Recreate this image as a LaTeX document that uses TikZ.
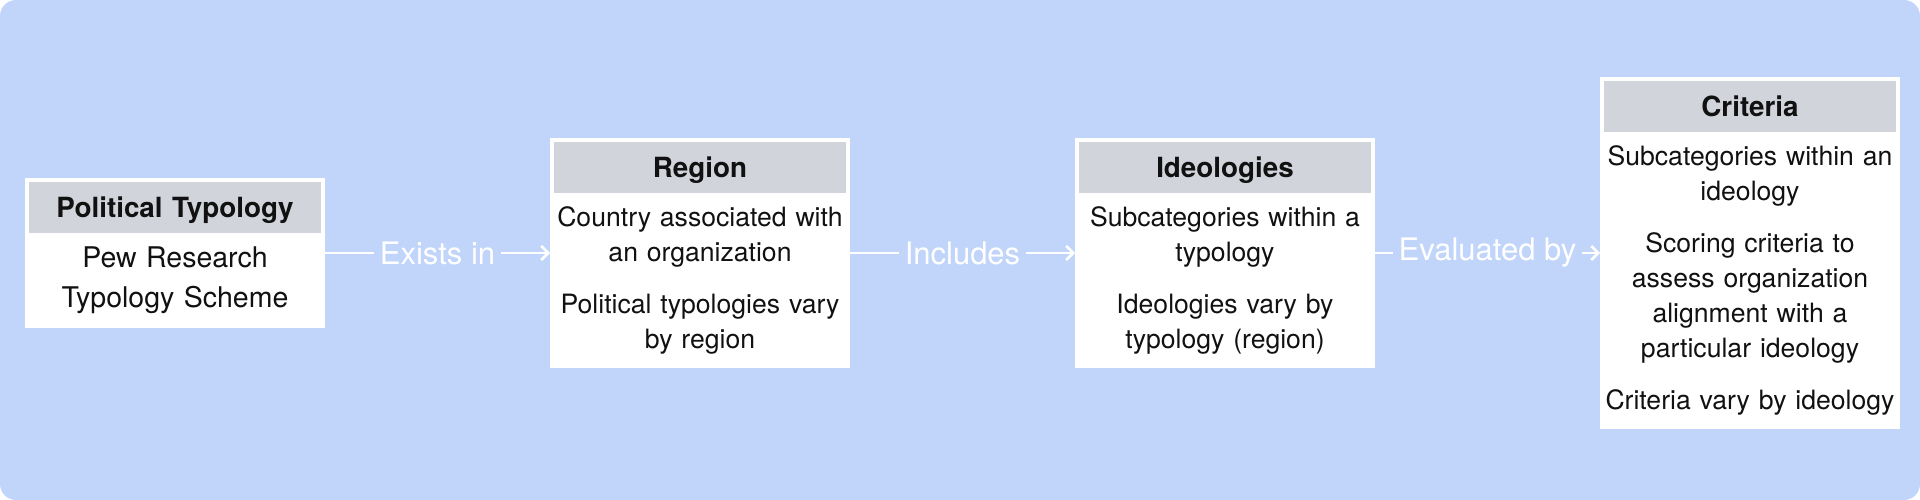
\documentclass[tikz,border=0pt]{standalone}
\usepackage{fontspec}
\setmainfont{TeX Gyre Heros}
\usetikzlibrary{arrows.meta,positioning,shapes.multipart}
\definecolor{bgblue}{HTML}{C1D5FA}
\definecolor{hdrgrey}{HTML}{D1D5DB}
\definecolor{inktext}{HTML}{111111}
\newcommand{\hdstrut}{\rule[-6pt]{0pt}{31.4pt}}
\newcommand{\cardhead}[1]{\fontsize{27.8}{30}\selectfont\bfseries\hdstrut #1}
\tikzset{
  card/.style={rectangle split, rectangle split parts=2, draw=white, line width=4pt,
    rectangle split part fill={hdrgrey,white}, text width=294pt, inner xsep=1pt, inner ysep=9.8pt,
    align=center, text=inktext, font=\fontsize{26.6}{35}\selectfont},
  line/.style={-{Straight Barb[length=7pt,width=14pt]}, line width=2.5pt, white},
  rel/.style={fill=bgblue, text=white, inner xsep=6pt, inner ysep=2pt, font=\fontsize{31}{34}\selectfont}
}

\begin{document}
\begin{tikzpicture}[node distance=225pt]
  \fill[bgblue, rounded corners=16pt] (0,0) rectangle (1920pt,-500pt);

  \node[card, font=\fontsize{28.5}{40}\selectfont] (typology) at (175pt,-253pt)
    {\cardhead{Political Typology}
     \nodepart{two} Pew Research\\Typology Scheme};
  \node[card, right=of typology] (region)
    {\cardhead{Region}
     \nodepart{two} Country associated with\\an organization\\[17pt]Political typologies vary\\by region};
  \node[card, right=of region] (ideology)
    {\cardhead{Ideologies}
     \nodepart{two} Subcategories within a\\typology\\[17pt]Ideologies vary by\\typology (region)};
  \node[card, right=of ideology] (criteria)
    {\cardhead{Criteria}
     \nodepart{two} Subcategories within an\\ideology\\[17pt]Scoring criteria to\\assess organization\\alignment with a\\particular ideology\\[17pt]Criteria vary by ideology};

  \draw[line] (typology) -- node[rel] {Exists in} (region);
  \draw[line] (region) -- node[rel] {Includes} (ideology);
  \draw[line] (ideology) -- node[rel] {Evaluated by} (criteria);
\end{tikzpicture}
\end{document}
